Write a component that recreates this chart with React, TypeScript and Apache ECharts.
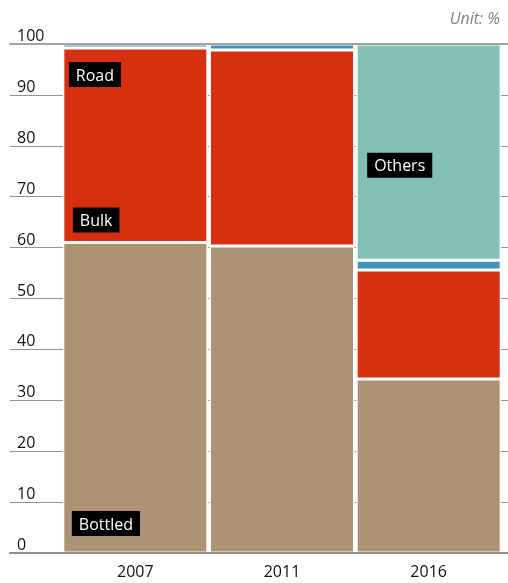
import React, { useEffect, useRef } from "react";
import * as echarts from "echarts";

const years = ["2007", "2011", "2016"];
const bottled = [61.0, 60.3, 34.2];
const bulk = [38.2, 38.5, 21.4];
const road = [0.8, 1.2, 1.9];
const others = [0, 0, 42.5];
const yTicks = [0, 10, 20, 30, 40, 50, 60, 70, 80, 90, 100];

const FONT = "'Open Sans', 'Noto Sans', sans-serif";
const COLORS = {
  bottled: "#ad9274",
  bulk: "#d63010",
  road: "#4194b7",
  others: "#85c0b5",
};

const tagLabel = (text: string, extra: any) => ({
  show: true,
  formatter: text,
  color: "#ffffff",
  backgroundColor: "#000000",
  padding: [3, 7, 3, 7],
  fontSize: 16,
  lineHeight: 19,
  fontFamily: FONT,
  ...extra,
});

export default function App() {
  const ref = useRef<HTMLDivElement>(null);
  useEffect(() => {
    if (!ref.current) return;
    const chart = echarts.init(ref.current, null, { renderer: "svg" });
    const barCommon = {
      type: "bar",
      stack: "total",
      xAxisIndex: 2,
      yAxisIndex: 1,
      barWidth: 145,
      silent: true,
      itemStyle: { borderColor: "#ffffff", borderWidth: 1.5 },
    };
    chart.setOption({
      animation: false,
      title: {
        text: "Unit: %",
        right: 3,
        top: 5,
        textStyle: {
          fontFamily: FONT,
          fontStyle: "italic",
          fontWeight: "normal",
          fontSize: 16,
          color: "#7f7f77",
        },
      },
      grid: [
        { left: 10, right: 0, top: 44, bottom: 30 },
        { left: 62, right: 6, top: 44, bottom: 30 },
      ],
      xAxis: [
        {
          gridIndex: 0,
          type: "value",
          position: "bottom",
          z: 10,
          min: 0,
          max: 1,
          axisLine: { show: true, lineStyle: { color: "#8e8e86", width: 2 } },
          axisTick: { show: false },
          axisLabel: { show: false },
          splitLine: { show: false },
        },
        {
          gridIndex: 0,
          type: "value",
          position: "top",
          z: 10,
          min: 0,
          max: 1,
          axisLine: { show: true, lineStyle: { color: "#a3a39b", width: 2 } },
          axisTick: { show: false },
          axisLabel: { show: false },
          splitLine: { show: false },
        },
        {
          gridIndex: 1,
          type: "category",
          data: years,
          axisLine: { show: false },
          axisTick: { show: false },
          axisLabel: {
            margin: 10,
            fontSize: 16,
            fontFamily: FONT,
            color: "#111111",
          },
        },
      ],
      yAxis: [
        {
          gridIndex: 0,
          type: "value",
          min: 0,
          max: 100,
          interval: 10,
          axisLine: { show: false },
          axisTick: { show: false },
          axisLabel: {
            inside: true,
            margin: 7,
            align: "left",
            verticalAlign: "bottom",
            padding: [0, 0, 1, 0],
            fontSize: 16,
            fontFamily: FONT,
            color: "#111111",
            formatter: (v: number) => (yTicks.includes(v) ? String(v) : ""),
          },
          splitLine: { show: true, lineStyle: { color: "#94948c", width: 1 } },
        },
        {
          gridIndex: 1,
          type: "value",
          min: 0,
          max: 100,
          show: false,
        },
      ],
      series: [
        {
          ...barCommon,
          name: "Bottled",
          itemStyle: { ...barCommon.itemStyle, color: COLORS.bottled },
          data: bottled.map((v, i) =>
            i === 0
              ? {
                  value: v,
                  label: tagLabel("Bottled", {
                    position: "insideBottomLeft",
                    distance: 9,
                    offset: [0, -8],
                  }),
                }
              : v
          ),
        },
        {
          ...barCommon,
          name: "Bulk",
          itemStyle: { ...barCommon.itemStyle, color: COLORS.bulk },
          data: bulk.map((v, i) =>
            i === 0
              ? {
                  value: v,
                  label: tagLabel("Bulk", {
                    position: "insideBottomLeft",
                    distance: 10,
                  }),
                }
              : v
          ),
        },
        {
          ...barCommon,
          name: "Road",
          itemStyle: { ...barCommon.itemStyle, color: COLORS.road },
          data: road.map((v, i) =>
            i === 0
              ? {
                  value: v,
                  label: tagLabel("Road", { position: [6, 18] }),
                }
              : v
          ),
        },
        {
          ...barCommon,
          name: "Others",
          itemStyle: { ...barCommon.itemStyle, color: COLORS.others },
          data: others.map((v, i) =>
            i === 2
              ? {
                  value: v,
                  label: tagLabel("Others", {
                    position: "insideLeft",
                    distance: 11,
                    offset: [0, 13],
                  }),
                }
              : v
          ),
        },
      ],
    });
    return () => chart.dispose();
  }, []);
  return (
    <div
      ref={ref}
      style={{ position: "fixed", left: 0, top: 0, width: 508, height: 583 }}
    />
  );
}
